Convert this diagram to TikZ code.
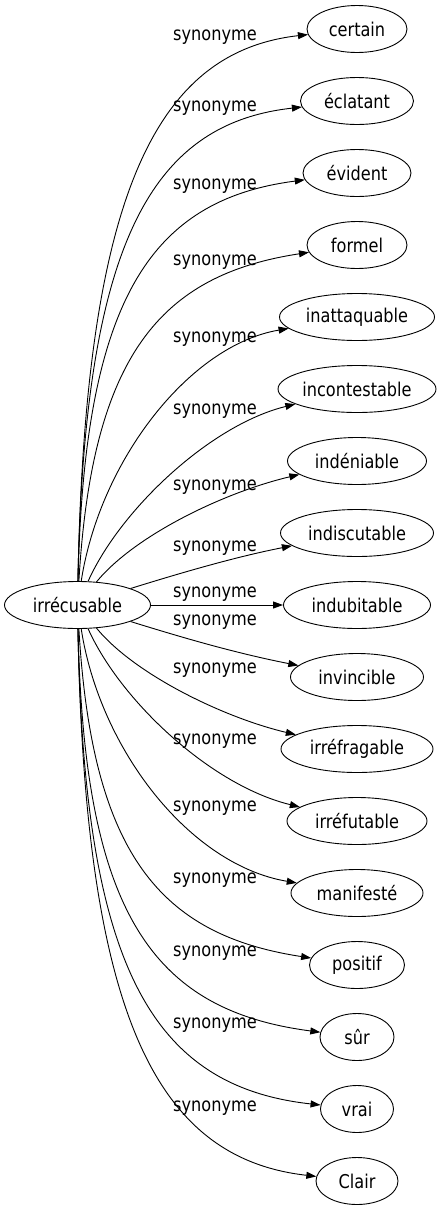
\documentclass[tikz,border=0pt]{standalone}
\usepackage{fontspec}
\setmainfont{DejaVu Sans}[FakeStretch=0.85]
\usetikzlibrary{arrows.meta,shapes.geometric}
\begin{document}
\begin{tikzpicture}[x=1pt,y=1pt,
  word/.style={draw, ellipse, inner sep=0pt, minimum height=47pt,
    font=\fontsize{19}{21}\selectfont, line width=0.9pt},
  lab/.style={font=\fontsize{19}{21}\selectfont, inner sep=0pt},
  syn/.style={line width=0.9pt, -{Triangle[length=10pt,width=7pt]}}]
\useasboundingbox (0,0) rectangle (445,-1211);
\node[word, minimum width=146pt] (src) at (77.5,-605) {irrécusable};
\foreach \kk/\txt/\ww/\xa/\ya/\xb/\yb/\ly in {
  0/certain/100/85/198/154/52/37,
  1/éclatant/113/84/249/148/124/108,
  2/évident/108/84/300/150/200/186,
  3/formel/100/92/356/160/275/262,
  4/inattaquable/155/100/460/190/345/339,
  5/incontestable/158/120/510/210/425/411,
  6/indéniable/139/135/535/225/492/487,
  7/indiscutable/153/190/570/240/556/548,
  9/invincible/133/190/640/240/654/622,
  10/irréfragable/152/135/675/225/718/670,
  11/irréfutable/140/120/700/210/785/741,
  12/manifesté/132/100/750/190/865/808,
  13/positif/95/92/854/160/935/880,
  14/sûr/74/84/910/150/1010/953,
  15/vrai/73/84/961/148/1086/1025,
  16/Clair/82/85/1012/154/1158/1108}
{
  \node[word, minimum width=\ww pt] (n\kk) at (357,{-29-72*\kk}) {\txt};
  \draw[syn] (src) .. controls (\xa,-\ya) and (\xb,-\yb) .. (n\kk);
  \node[lab] (l\kk) at (215,-\ly) {synonyme};
}
\node[word, minimum width=147pt] (n8) at (357,-605) {indubitable};
\draw[syn] (src) -- (n8);
\node[lab] (l8) at (215,-594) {synonyme};
\end{tikzpicture}
\end{document}
